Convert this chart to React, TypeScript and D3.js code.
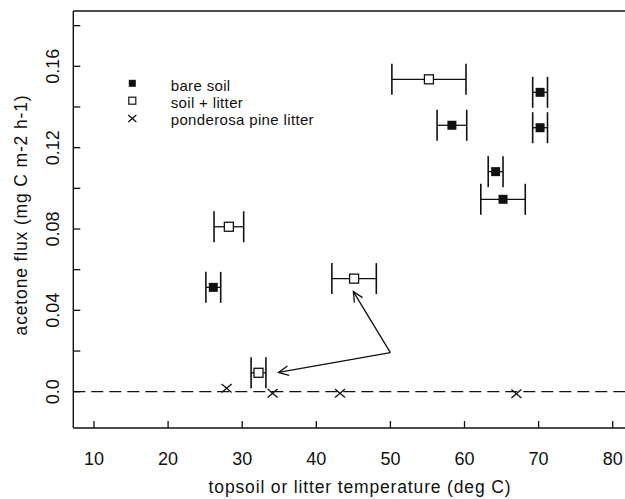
import React from "react";
import { scaleLinear, range } from "d3";

// temperatures (deg C), fluxes (mg C m-2 h-1), half-widths of the temperature bars
const bareSoilTemp = [26.1, 58.3, 64.2, 65.2, 70.2, 70.2];
const bareSoilFlux = [0.0513, 0.131, 0.1082, 0.0946, 0.1472, 0.1298];
const bareSoilErr = [1, 2, 1, 3, 1, 1];

const soilLitterTemp = [28.2, 32.2, 45.1, 55.2];
const soilLitterFlux = [0.0811, 0.0093, 0.0556, 0.1536];
const soilLitterErr = [2, 1, 3, 5];

const pineTemp = [27.9, 34.1, 43.2, 67.0];
const pineFlux = [0.0017, -0.0008, -0.0008, -0.001];

// arrow from one point toward two soil + litter points
const arrowTail = [50.0, 0.0192];
const arrowHeads = [
  [45.0, 0.0492],
  [34.9, 0.0095],
];

const xTicks = [10, 20, 30, 40, 50, 60, 70, 80];
const yTicks = range(0, 0.181, 0.02);
const yLabels = [0, 0.04, 0.08, 0.12, 0.16];
const legendLabels = ["bare soil", "soil + litter", "ponderosa pine litter"];

const font = "'Liberation Sans', Arial, Helvetica, sans-serif";

export default function App() {
  const width = 625;
  const height = 499;
  const left = 73.3;
  const top = 11;
  const bottom = 428;
  const right = 660;

  const x = scaleLinear().domain([10, 80]).range([94, 612.7]);
  const y = scaleLinear().domain([0, 0.16]).range([391.7, 66.3]);

  const cap = 15.5;
  const sq = 9;

  const errBar = (t: number, f: number, e: number, key: string) => {
    const x0 = x(t - e);
    const x1 = x(t + e);
    const yy = y(f);
    return (
      <g key={key} stroke="#111" strokeWidth={1.3}>
        <line x1={x0} x2={x1} y1={yy} y2={yy} />
        <line x1={x0} x2={x0} y1={yy - cap} y2={yy + cap} strokeWidth={1.6} />
        <line x1={x1} x2={x1} y1={yy - cap} y2={yy + cap} strokeWidth={1.6} />
      </g>
    );
  };

  const cross = (cx: number, cy: number, s: number, key: string) => (
    <g key={key} stroke="#111" strokeWidth={1.3}>
      <line x1={cx - s} x2={cx + s} y1={cy - s * 0.85} y2={cy + s * 0.85} />
      <line x1={cx - s} x2={cx + s} y1={cy + s * 0.85} y2={cy - s * 0.85} />
    </g>
  );

  const arrowHead = (tx: number, ty: number, hx: number, hy: number) => {
    const ang = Math.atan2(ty - hy, tx - hx);
    const len = 11;
    const spread = 0.45;
    const a1 = [hx + len * Math.cos(ang + spread), hy + len * Math.sin(ang + spread)];
    const a2 = [hx + len * Math.cos(ang - spread), hy + len * Math.sin(ang - spread)];
    return `M${a1[0]},${a1[1]}L${hx},${hy}L${a2[0]},${a2[1]}`;
  };

  return (
    <svg width={width} height={height} style={{ display: "block", position: "absolute", left: 0, top: 0, background: "#fff" }}>
      <rect x={0} y={0} width={width} height={height} fill="#fff" />

      {/* frame */}
      <g stroke="#111" strokeWidth={1.4} fill="none">
        <line x1={left} x2={left} y1={top} y2={bottom} />
        <line x1={left} x2={right} y1={top} y2={top} />
        <line x1={left} x2={right} y1={bottom} y2={bottom} />
      </g>

      {/* ticks, pointing inward */}
      <g stroke="#111" strokeWidth={1.3}>
        {xTicks.map((t) => (
          <line key={"xt" + t} x1={x(t)} x2={x(t)} y1={bottom} y2={bottom - 7} />
        ))}
        {yTicks.map((t) => (
          <line key={"yt" + t} x1={left} x2={left + 7} y1={y(t)} y2={y(t)} />
        ))}
      </g>

      <g fontFamily={font} fontSize={18} fill="#111">
        {xTicks.map((t) => (
          <text key={"xl" + t} x={x(t)} y={465} textAnchor="middle">
            {t}
          </text>
        ))}
        {yLabels.map((t) => (
          <text key={"yl" + t} transform={`translate(59,${y(t)}) rotate(-90)`} textAnchor="middle">
            {t === 0 ? "0.0" : t.toFixed(2)}
          </text>
        ))}
      </g>

      <text x={360} y={493} textAnchor="middle" fontFamily={font} fontSize={17.5} letterSpacing={0.85} fill="#111">
        topsoil or litter temperature (deg C)
      </text>
      <text transform="translate(27,215) rotate(-90)" textAnchor="middle" fontFamily={font} fontSize={17.5} letterSpacing={0.85} fill="#111">
        acetone flux (mg C m-2 h-1)
      </text>

      {/* zero line */}
      <line x1={left} x2={right} y1={y(0)} y2={y(0)} stroke="#111" strokeWidth={1.2} strokeDasharray="12,6" />

      {/* error bars */}
      {bareSoilTemp.map((t, i) => errBar(t, bareSoilFlux[i], bareSoilErr[i], "be" + i))}
      {soilLitterTemp.map((t, i) => errBar(t, soilLitterFlux[i], soilLitterErr[i], "le" + i))}

      {/* markers */}
      {bareSoilTemp.map((t, i) => (
        <rect key={"b" + i} x={x(t) - sq / 2} y={y(bareSoilFlux[i]) - sq / 2} width={sq} height={sq} fill="#111" />
      ))}
      {soilLitterTemp.map((t, i) => (
        <rect
          key={"l" + i}
          x={x(t) - sq / 2}
          y={y(soilLitterFlux[i]) - sq / 2}
          width={sq}
          height={sq}
          fill="#fff"
          stroke="#111"
          strokeWidth={1.3}
        />
      ))}
      {pineTemp.map((t, i) => cross(x(t), y(pineFlux[i]), 5, "p" + i))}

      {/* arrow */}
      <g stroke="#111" strokeWidth={1.3} fill="none">
        {arrowHeads.map((h, i) => {
          const tx = x(arrowTail[0]);
          const ty = y(arrowTail[1]);
          const hx = x(h[0]);
          const hy = y(h[1]);
          return (
            <g key={"a" + i}>
              <line x1={tx} y1={ty} x2={hx} y2={hy} />
              <path d={arrowHead(tx, ty, hx, hy)} />
            </g>
          );
        })}
      </g>

      {/* legend */}
      <g fontFamily={font} fontSize={15} letterSpacing={0.35} fill="#111">
        <rect x={132.3 - 3.5} y={83.3 - 3.5} width={7} height={7} fill="#111" />
        <rect x={132.3 - 3.5} y={100.7 - 3.5} width={7} height={7} fill="#fff" stroke="#111" strokeWidth={1.2} />
        {cross(132.3, 118.5, 4, "lgx")}
        {legendLabels.map((l, i) => (
          <text key={"lg" + i} x={170.7} y={90.7 + i * 17.2}>
            {l}
          </text>
        ))}
      </g>
    </svg>
  );
}
